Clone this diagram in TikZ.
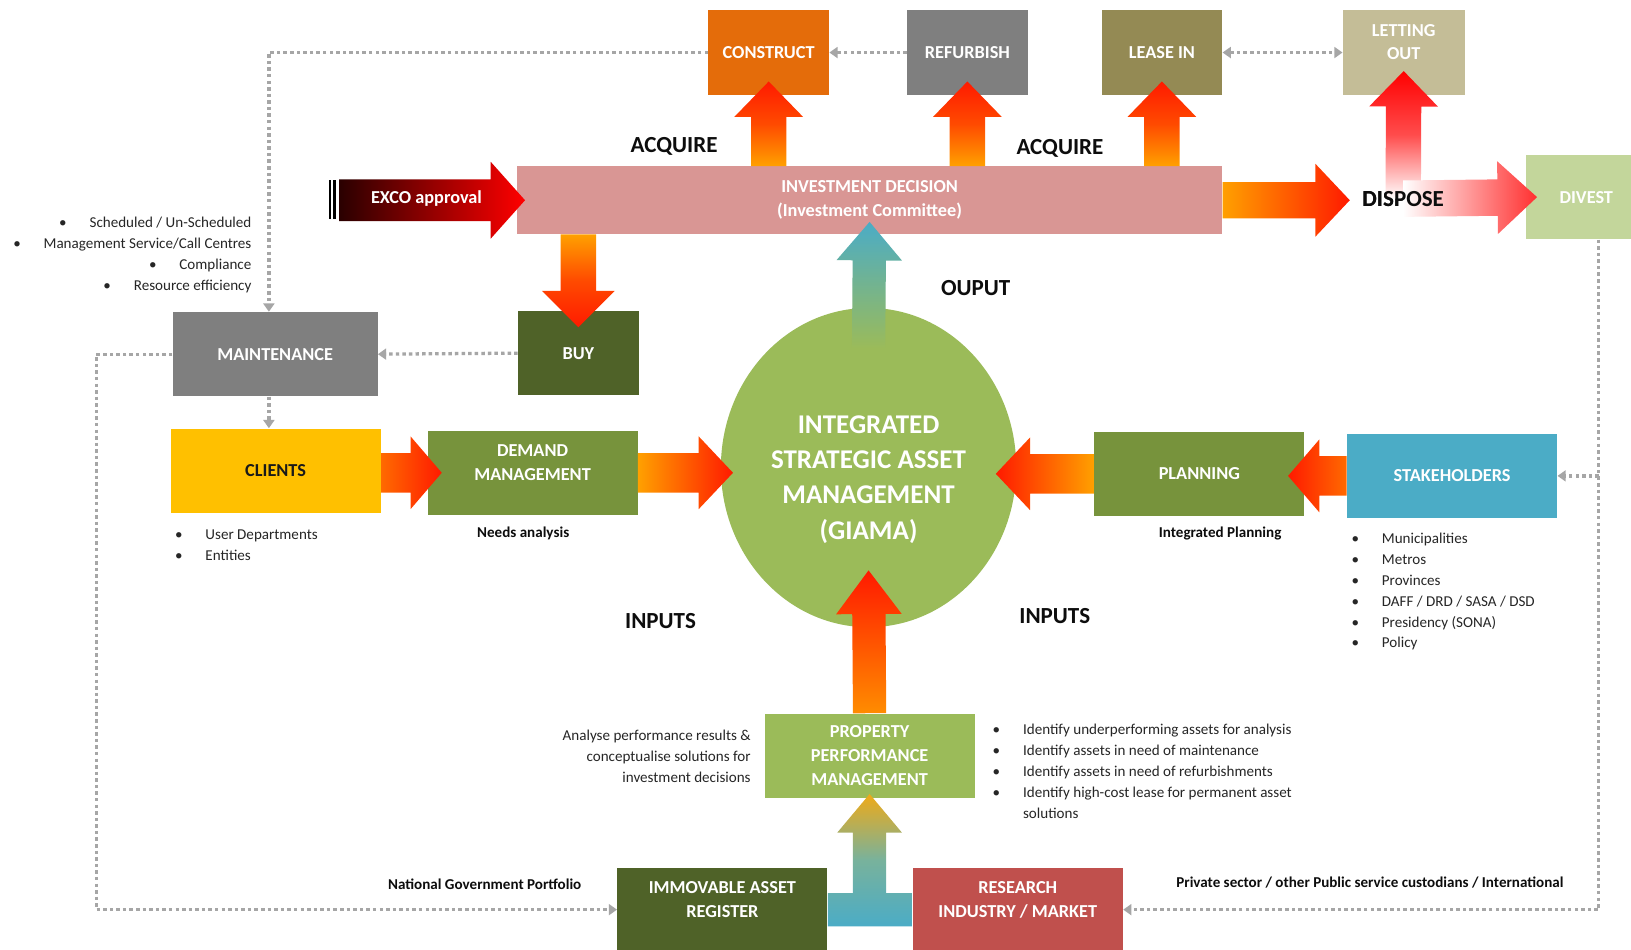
\documentclass[tikz,border=0pt]{standalone}
\usepackage{fontspec}
\setmainfont{Carlito}
\usetikzlibrary{calc,shapes.geometric,arrows.meta}

\definecolor{cConstruct}{HTML}{E46C0A}
\definecolor{cGrey}{HTML}{7F7F7F}
\definecolor{cLease}{HTML}{948A54}
\definecolor{cLet}{HTML}{C4BD97}
\definecolor{cInvest}{HTML}{D99694}
\definecolor{cDivest}{HTML}{C3D69B}
\definecolor{cDark}{HTML}{4F6228}
\definecolor{cClients}{HTML}{FFC000}
\definecolor{cMid}{HTML}{77933C}
\definecolor{cBlue}{HTML}{4BACC6}
\definecolor{cLight}{HTML}{9BBB59}
\definecolor{cRed}{HTML}{C0504D}
\definecolor{cDot}{HTML}{A6A6A6}
\definecolor{cText}{HTML}{262626}
\definecolor{aRed}{HTML}{FF1A00}
\definecolor{aRedOr}{HTML}{FF4A00}
\definecolor{aOrange}{HTML}{FFA000}
\definecolor{aDeep}{HTML}{FF6A00}
\definecolor{aDark}{HTML}{2A0000}
\definecolor{aPink}{HTML}{FF3030}
\definecolor{aGold}{HTML}{EFAA18}
\definecolor{aTeal}{HTML}{78B29C}

\newcommand\fBox{\bfseries\fontsize{10}{13}\selectfont}
\newcommand\fBig{\bfseries\fontsize{12.6}{15}\selectfont}
\newcommand\fSmall{\fontsize{8.25}{11.4}\selectfont}
\newcommand\fGiama{\bfseries\fontsize{14.8}{19.3}\selectfont}
\newcommand\bul{\textbullet\hspace{12.5pt}}

% block arrow: #1 shading, #2 base, #3 tip, #4 half body width, #5 half head width, #6 head length
\newcommand\blockarrow[6]{%
  \path #2 coordinate (bas) #3 coordinate (bat);
  \path ($(bat)!#6!(bas)$) coordinate (bah);
  \shade[#1] ($(bas)!#4!90:(bat)$) -- ($(bah)!#4!90:(bat)$) -- ($(bah)!#5!90:(bat)$) -- (bat)
    -- ($(bah)!#5!-90:(bat)$) -- ($(bah)!#4!-90:(bat)$) -- ($(bas)!#4!-90:(bat)$) -- cycle;
}

\begin{document}
\begin{tikzpicture}[x=0.02cm,y=-0.02cm,
  box/.style={rectangle,inner sep=0pt,minimum width=2.32cm,minimum height=1.62cm,
    text=white,align=center,font=\fBox},
  widebox/.style={box,minimum width=4.04cm},
  biglabel/.style={font=\fBig,text=black!95},
  boldnote/.style={font=\fSmall\bfseries,text=black!95},
  notelist/.style={font=\fSmall,text=cText,inner sep=0pt},
  dotline/.style={draw=cDot,line width=1.8pt,dash pattern=on 1.9pt off 1.7pt},
  dottip/.style={-{Triangle[width=6pt,length=4.5pt]}},
  dottips/.style={{Triangle[width=6pt,length=4.5pt]}-{Triangle[width=6pt,length=4.5pt]}}]

\clip (0,0) rectangle (1568,913);
\fill[white] (0,0) rectangle (1568,913);

% ---- boxes ----
\node[box,fill=cConstruct] (construct) at (739,50.5) {CONSTRUCT};
\node[box,fill=cGrey] (refurbish) at (930,50.5) {REFURBISH};
\node[box,fill=cLease] (leasein) at (1117,50.5) {LEASE IN};
\node[box,fill=cLet,minimum width=2.34cm] (letting) at (1349.5,50.5) {LETTING\\OUT\\[-1.6pt]\mbox{}};
\node[box,fill=cInvest,minimum width=13.56cm,minimum height=1.3cm] (invest) at (836,192.5)
  {INVESTMENT DECISION\\(Investment Committee)};
\node[box,fill=cDivest] (divest) at (1525,189.5) {DIVEST};
\node[box,fill=cDark] (buy) at (556,339.5) {BUY};
\node[box,fill=cGrey,minimum width=3.94cm] (maint) at (264.5,340.5) {MAINTENANCE};
\node[widebox,fill=cClients,text=black!90] (clients) at (265,452.5) {CLIENTS};
\node[widebox,fill=cMid] (demand) at (512,454.5) {DEMAND\\MANAGEMENT\\[-1.6pt]\mbox{}};
\node[ellipse,fill=cLight,minimum width=5.68cm,minimum height=6.14cm,inner sep=0pt] (giama) at (835,449.5) {};
\node[widebox,fill=cMid] (planning) at (1153,455.5) {PLANNING};
\node[widebox,fill=cBlue] (stake) at (1396,457.5) {STAKEHOLDERS};
\node[widebox,fill=cLight] (ppm) at (836,726.5) {PROPERTY\\PERFORMANCE\\MANAGEMENT};
\node[widebox,fill=cDark] (iar) at (694.5,874.5) {IMMOVABLE ASSET\\REGISTER\\[-1.6pt]\mbox{}};
\node[widebox,fill=cRed] (research) at (978.5,874.5) {RESEARCH\\INDUSTRY / MARKET\\[-1.6pt]\mbox{}};

% ---- dotted feedback lines ----
\coordinate (mtop) at ([xshift=-0.12cm]maint.north);
\coordinate (mbot) at ([xshift=-0.12cm]maint.south);
\draw[dotline,dottip] (construct.west) -| (mtop);
\draw[dotline,dottip] (refurbish.west) -- (construct.east);
\draw[dotline,dottips] (leasein.east) -- (letting.west);
\draw[dotline,dottip] (buy.west) -- (maint.east);
\draw[dotline,dottip] (mbot) -- (mbot |- clients.north);
\draw[dotline,dottip] (maint.west) -- ++(-73,0) |- (iar.west);
\coordinate (drop) at ([xshift=0.24cm]divest.south);
\draw[dotline,dottip] (drop) |- (research.east);
\draw[dotline,dottip] (drop |- stake.east) -- (stake.east);

% ---- block arrows ----
\foreach \bx in {construct,refurbish,leasein}{
  \blockarrow{top color=aRed,bottom color=aOrange,middle color=aRedOr}{(\bx |- invest.north)}{([yshift=0.26cm]\bx.south)}{0.34cm}{0.66cm}{0.68cm}
}
\blockarrow{top color=aOrange,bottom color=aRed,middle color=aRedOr}{(buy |- invest.south)}{([yshift=-0.32cm]buy.north)}{0.34cm}{0.7cm}{0.7cm}

% EXCO approval
\fill[black] (316,173) rectangle (318.5,211);
\fill[black] (320.5,173) rectangle (323,211);
\coordinate (exco) at (326,192.5);
\blockarrow{left color=aDark,right color=red}{(exco)}{([xshift=0.16cm]invest.west)}{0.4cm}{0.74cm}{0.66cm}
\node[font=\fBox,text=white] (excolabel) at (410,191) {EXCO approval};

% dispose branch
\node[biglabel] (dispose) at (1349,191) {DISPOSE};
\coordinate (dw) at ([xshift=-0.12cm]dispose.west);
\blockarrow{left color=aOrange,right color=aRed}{(invest.east)}{(dw |- invest.east)}{0.35cm}{0.7cm}{0.66cm}
\blockarrow{top color=red,bottom color=white,middle color=red!70!white}{(dispose.center)}{([yshift=0.46cm]letting.south)}{0.34cm}{0.66cm}{0.68cm}
\blockarrow{left color=white,right color=aPink}{(dispose.center)}{([xshift=0.22cm]divest.west)}{0.35cm}{0.7cm}{0.76cm}
\node[biglabel] (disposetext) at (dispose) {DISPOSE};

% output to investment decision
\blockarrow{top color=cBlue,bottom color=cLight}{([yshift=-0.78cm]giama.north)}{([yshift=0.24cm]invest.south)}{0.32cm}{0.63cm}{0.74cm}

% middle row
\blockarrow{left color=aDeep,right color=aRed}{(clients.east |- demand.west)}{([xshift=0.28cm]demand.west)}{0.38cm}{0.7cm}{0.6cm}
\coordinate (gw) at ([xshift=0.24cm]giama.west);
\blockarrow{left color=aOrange,right color=aRed}{(demand.east)}{(gw |- demand.east)}{0.38cm}{0.7cm}{0.66cm}
\coordinate (ge) at ([xshift=-0.4cm]giama.east);
\blockarrow{right color=aOrange,left color=aRed}{(planning.west)}{(ge |- planning.west)}{0.38cm}{0.7cm}{0.66cm}
\coordinate (pe) at ([xshift=-0.32cm]planning.east);
\blockarrow{right color=aDeep,left color=aRed}{(stake.west)}{(pe |- stake.west)}{0.38cm}{0.7cm}{0.6cm}

% performance into GIAMA
\blockarrow{top color=aRed,bottom color={rgb,255:red,255;green,140;blue,0}}{(ppm.north)}{([yshift=1.1cm]giama.south)}{0.32cm}{0.63cm}{0.84cm}

% register and research feed performance management
\coordinate (tt) at ([yshift=0.08cm]ppm.south);
\coordinate (bl) at ([yshift=0.32cm]iar.east);
\coordinate (bl2) at ([yshift=-0.32cm]iar.east);
\coordinate (br) at ([yshift=0.32cm]research.west);
\coordinate (br2) at ([yshift=-0.32cm]research.west);
\coordinate (sl) at ($(tt)+(-16,37)$);
\coordinate (sr) at ($(tt)+(16,37)$);
\coordinate (hl) at ($(tt)+(-31,37)$);
\coordinate (hr) at ($(tt)+(31,37)$);
\shade[top color=aGold,bottom color=cBlue,middle color=aTeal]
  (bl) -- (sl |- bl) -- (sl) -- (hl) -- (tt) -- (hr) -- (sr) -- (sr |- br) -- (br) -- (br2) -- (bl2) -- cycle;

% ---- texts ----
\node[font=\fGiama,text=white,align=center] (giamatext) at (835,461)
  {INTEGRATED\\STRATEGIC ASSET\\MANAGEMENT\\(GIAMA)};
\node[biglabel] (acq1) at (648,141) {ACQUIRE};
\node[biglabel] (acq2) at (1019,143) {ACQUIRE};
\node[biglabel] (output) at (938,277) {OUPUT};
\node[biglabel] (in1) at (635,597) {INPUTS};
\node[biglabel] (in2) at (1014,592) {INPUTS};

\node[boldnote] (needs) at (503,513) {Needs analysis};
\node[boldnote] (intplan) at (1173,513) {Integrated Planning};
\node[boldnote] (natgov) at (466,850) {National Government Portfolio};
\node[boldnote] (private) at (1317,848) {Private sector / other Public service custodians / International};

\node[notelist,align=right,anchor=east] (mlist) at (242,245)
  {\bul Scheduled / Un-Scheduled\\\bul Management Service/Call Centres\\\bul Compliance\\\bul Resource efficiency};
\node[notelist,align=left,anchor=west] (clist) at (168,524.5)
  {\bul User Departments\\\bul Entities};
\node[notelist,align=left,anchor=west] (slist) at (1299,569)
  {\bul Municipalities\\\bul Metros\\\bul Provinces\\\bul DAFF / DRD / SASA / DSD\\\bul Presidency (SONA)\\\bul Policy};
\node[notelist,align=left,anchor=west] (plist) at (954,741.5)
  {\bul Identify underperforming assets for analysis\\\bul Identify assets in need of maintenance\\
   \bul Identify assets in need of refurbishments\\\bul Identify high-cost lease for permanent asset\\
   \phantom{\bul}solutions};
\node[notelist,align=right,anchor=east] (alist) at (722,727)
  {Analyse performance results \&\\conceptualise solutions for\\investment decisions};

\end{tikzpicture}
\end{document}
